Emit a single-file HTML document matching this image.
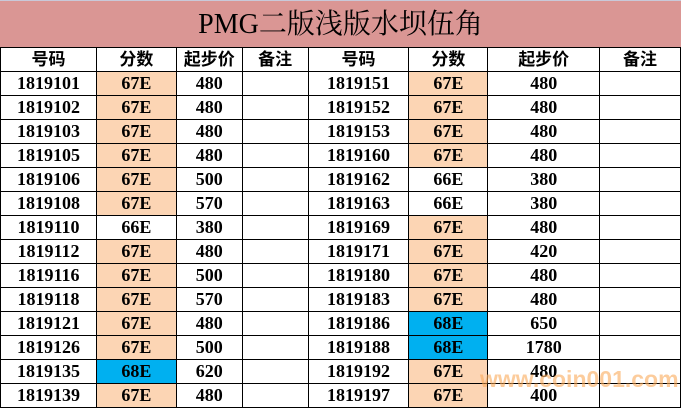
<!DOCTYPE html>
<html><head><meta charset="utf-8"><style>
html,body{margin:0;padding:0;background:#fff;}
body{width:681px;height:409px;position:relative;overflow:hidden;font-family:"Liberation Serif","Noto Serif CJK SC",serif;font-weight:bold;}
.title{position:absolute;left:0;top:0;width:681px;height:47px;background:#da9694;border-top:1px solid #c9c9d9;box-sizing:border-box;text-align:center;line-height:48px;font-size:28px;color:#000;font-weight:normal;}
table{position:absolute;left:0;top:47px;border-collapse:collapse;table-layout:fixed;}
td{border:1.5px solid #000;height:23px;padding:0;text-align:center;font-size:18px;line-height:23px;color:#000;}
.h td{font-size:17px;font-family:"Liberation Sans","Noto Sans CJK SC",sans-serif;}
.o{background:#fcd5b4;}
.b{background:#00b0f0;}
.wm{position:absolute;left:480px;top:366px;font-family:"Liberation Sans",sans-serif;font-weight:bold;font-size:23px;color:rgba(250,170,90,0.6);}
</style></head><body>
<div class="title">PMG二版浅版水坝伍角</div>
<table>
<colgroup><col style="width:96px"><col style="width:80px"><col style="width:66px"><col style="width:66px"><col style="width:101px"><col style="width:79px"><col style="width:112px"><col style="width:81px"></colgroup>
<tr class="h"><td>号码</td><td>分数</td><td>起步价</td><td>备注</td><td>号码</td><td>分数</td><td>起步价</td><td>备注</td></tr>
<tr><td>1819101</td><td class="o">67E</td><td>480</td><td></td><td>1819151</td><td class="o">67E</td><td>480</td><td></td></tr>
<tr><td>1819102</td><td class="o">67E</td><td>480</td><td></td><td>1819152</td><td class="o">67E</td><td>480</td><td></td></tr>
<tr><td>1819103</td><td class="o">67E</td><td>480</td><td></td><td>1819153</td><td class="o">67E</td><td>480</td><td></td></tr>
<tr><td>1819105</td><td class="o">67E</td><td>480</td><td></td><td>1819160</td><td class="o">67E</td><td>480</td><td></td></tr>
<tr><td>1819106</td><td class="o">67E</td><td>500</td><td></td><td>1819162</td><td>66E</td><td>380</td><td></td></tr>
<tr><td>1819108</td><td class="o">67E</td><td>570</td><td></td><td>1819163</td><td>66E</td><td>380</td><td></td></tr>
<tr><td>1819110</td><td>66E</td><td>380</td><td></td><td>1819169</td><td class="o">67E</td><td>480</td><td></td></tr>
<tr><td>1819112</td><td class="o">67E</td><td>480</td><td></td><td>1819171</td><td class="o">67E</td><td>420</td><td></td></tr>
<tr><td>1819116</td><td class="o">67E</td><td>500</td><td></td><td>1819180</td><td class="o">67E</td><td>480</td><td></td></tr>
<tr><td>1819118</td><td class="o">67E</td><td>570</td><td></td><td>1819183</td><td class="o">67E</td><td>480</td><td></td></tr>
<tr><td>1819121</td><td class="o">67E</td><td>480</td><td></td><td>1819186</td><td class="b">68E</td><td>650</td><td></td></tr>
<tr><td>1819126</td><td class="o">67E</td><td>500</td><td></td><td>1819188</td><td class="b">68E</td><td>1780</td><td></td></tr>
<tr><td>1819135</td><td class="b">68E</td><td>620</td><td></td><td>1819192</td><td class="o">67E</td><td>480</td><td></td></tr>
<tr><td>1819139</td><td class="o">67E</td><td>480</td><td></td><td>1819197</td><td class="o">67E</td><td>400</td><td></td></tr>
</table>
<div class="wm">www.coin001.com</div>
</body></html>
